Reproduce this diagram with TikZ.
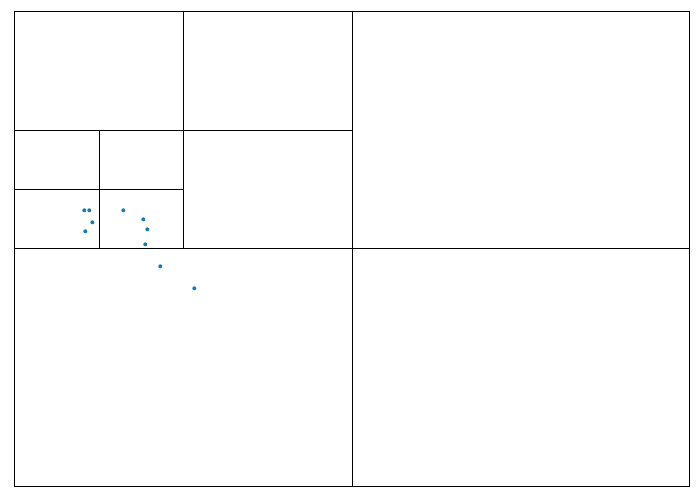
\documentclass[tikz,border=0pt]{standalone}
\usepackage{tikz}
\definecolor{ptblue}{HTML}{1F77B4}

\begin{document}
\begin{tikzpicture}[x=1pt, y=-1pt]
    \useasboundingbox (0,0) rectangle (700,500);

    % root cell
    \draw[line width=0.8pt] (14,11) rectangle (689,486);
    \draw[line width=0.8pt] (352,11) -- (352,486); \draw[line width=0.8pt] (14,248) -- (689,248);

    % level 2, upper left
    \draw[line width=0.8pt] (183,11) -- (183,248); \draw[line width=0.8pt] (14,130) -- (352,130);

    % level 3
    \draw[line width=0.8pt] (99,130) -- (99,248); \draw[line width=0.8pt] (14,189) -- (183,189);

    % points
    \foreach \px/\py in {84.3/210.3, 89.3/210.3, 92.3/222.3, 85.3/231.3, 123.3/210.3,
        143.3/219.3, 147.3/229.3, 145.3/244.3, 160.3/266.3, 194.3/288.3}
      \fill[ptblue] (\px,\py) circle (2pt);
  \end{tikzpicture}
\end{document}
